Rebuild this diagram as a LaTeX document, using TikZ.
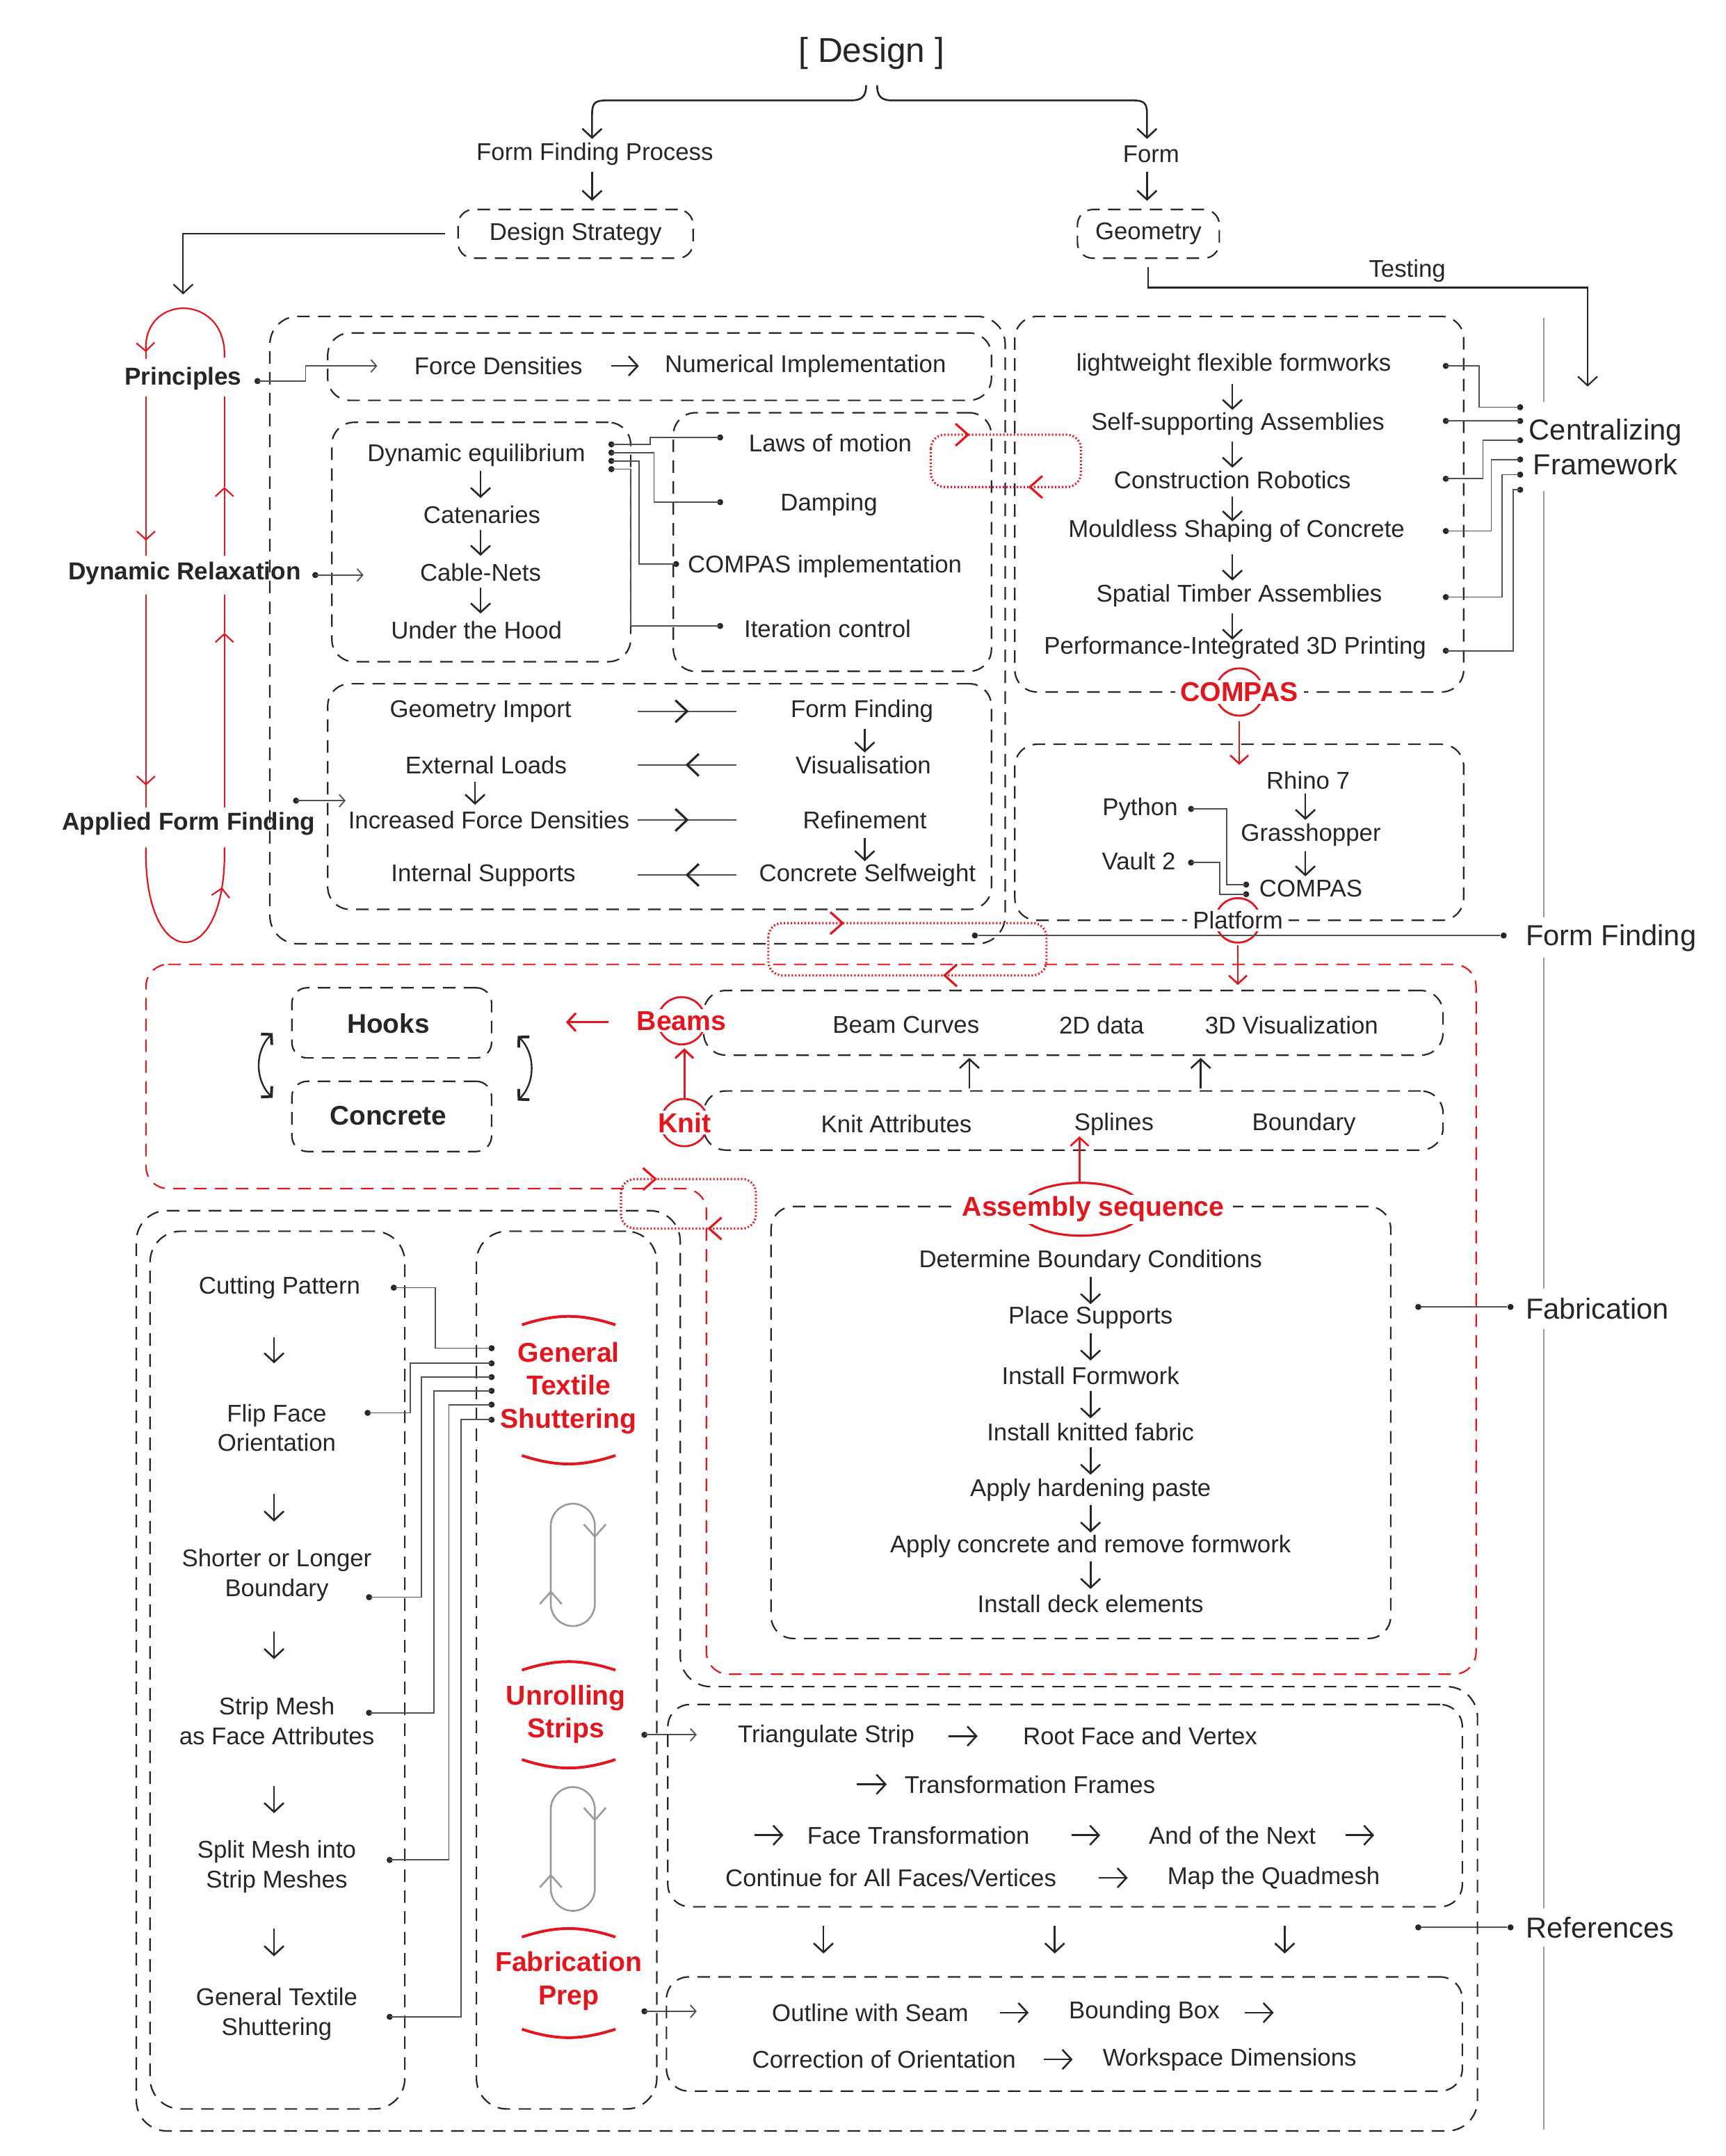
\documentclass[tikz,border=0pt]{standalone}
\usepackage{fontspec}
\setmainfont{Liberation Sans}
\usetikzlibrary{arrows.meta,fit,decorations.markings}
\definecolor{ink}{HTML}{262626}
\definecolor{rd}{HTML}{E3161D}
\definecolor{gr}{HTML}{505050}
\definecolor{lg}{HTML}{9A9A9A}
\newcommand{\chr}[2]{\draw[chev] (#1-9,#2-8) -- (#1,#2) -- (#1-9,#2+8);}
\newcommand{\chl}[2]{\draw[chev] (#1+9,#2-8) -- (#1,#2) -- (#1+9,#2+8);}
\newcommand{\bkr}[2]{\draw[ink,line width=1.6pt] (#1-8.5,#2-8) -- (#1,#2) -- (#1-8.5,#2+8);}
\newcommand{\bkl}[2]{\draw[ink,line width=1.6pt] (#1+8.5,#2-8) -- (#1,#2) -- (#1+8.5,#2+8);}
\begin{document}
\begin{tikzpicture}[x=0.99pt,y=-0.989pt,
 t/.style={font=\fontsize{17.4}{21.3}\selectfont,text=ink,inner sep=0pt,align=center},
 tb/.style={font=\fontsize{17.6}{21}\selectfont\bfseries,text=ink,inner sep=0pt},
 hk/.style={font=\fontsize{19.4}{23}\selectfont\bfseries,text=ink,inner sep=0pt},
 tr/.style={font=\fontsize{19.6}{23.8}\selectfont\bfseries,text=rd,inner sep=0pt,align=center},
 lab/.style={tr,fill=white,inner xsep=4pt,inner ysep=1.5pt},
 side/.style={font=\fontsize{20.8}{24.8}\selectfont,text=ink,inner sep=0pt,align=center},
 dbox/.style={draw=ink,line width=1.1pt,dash pattern=on 9pt off 6pt,rounded corners=16pt,inner sep=0pt},
 rdash/.style={draw=rd,line width=1.1pt,dash pattern=on 9pt off 6pt,rounded corners=16pt},
 rdot/.style={draw=rd,line width=1.6pt,dash pattern=on 1pt off 1.5pt,rounded corners=10pt},
 arr/.style={draw=ink,line width=1.3pt,-{Straight Barb[length=6.5pt,width=14pt]}},
 rarr/.style={draw=rd,line width=1.3pt,-{Straight Barb[length=6pt,width=13pt]}},
 rl/.style={draw=rd,line width=1.1pt},
 cn/.style={draw=gr,line width=0.9pt},
 carr/.style={draw=gr,line width=0.9pt,-{Straight Barb[length=4pt,width=9pt]}},
 dot/.style={circle,fill=ink,inner sep=0pt,minimum size=4.4pt},
 chev/.style={draw=rd,line width=1.6pt},
 loopic/.style={draw=lg,line width=1.3pt},
]
\useasboundingbox (0,0) rectangle (1253.0,1567.2);

% ---------------- top ----------------
\node[font=\fontsize{24.8}{30}\selectfont,text=ink,inner sep=0pt] (design) at (633,39) {[ Design ]};
\node[t] (ffp) at (432,112) {Form Finding Process};
\node[t] (form) at (836,112) {Form};
\draw[arr,line width=1.3pt] (629,62) .. controls (629,70) and (626,73) .. (618,73) -- (440,73) .. controls (432,73) and (430,75) .. (430,83) -- (430,101);
\draw[arr,line width=1.3pt] (637,62) .. controls (637,70) and (640,73) .. (648,73) -- (823,73) .. controls (831,73) and (833,75) .. (833,83) -- (833,101);
\draw[arr] (430,125) -- (430,146);
\draw[arr] (833,125) -- (833,146);
\node[t,dbox,rounded corners=11pt,minimum width=169pt,minimum height=35pt] (ds) at (418,170) {Design Strategy};
\node[t,dbox,rounded corners=11pt,minimum width=102pt,minimum height=35pt] (geo) at (834,170) {Geometry};
\draw[arr,line width=1.1pt] (ds.west) ++(-9,0) -- (133,170) -- (133,214);
\draw[arr,line width=1.1pt] (geo.south) ++(0,6) -- (834,209) -- (1153,209) -- (1153,281);
\node[t] (test) at (1022,197) {Testing};

% ---------------- left loop ----------------
\node[tb] (princ) at (133,275) {Principles};
\node[tb] (dr) at (134,417) {Dynamic Relaxation};
\node[tb] (aff) at (137,599) {Applied Form Finding};
\draw[rl,-{Straight Barb[length=6pt,width=13pt]}] (163,260) .. controls (165,213) and (104,213) .. (106,256);
\draw[rl] (106,256) -- (106,261);
\draw[rl,-{Straight Barb[length=6pt,width=13pt]}] (106,288) -- (106,393);
\draw[rl] (106,393) -- (106,404);
\draw[rl,-{Straight Barb[length=6pt,width=13pt]}] (106,432) -- (106,571);
\draw[rl] (106,571) -- (106,587);
\draw[rl,postaction={decorate},decoration={markings,mark=at position 0.82 with {\arrow{Straight Barb[length=6pt,width=13pt]}}}] (106,616) .. controls (104,708) and (165,708) .. (163,616);
\draw[rl,-{Straight Barb[length=6pt,width=13pt]}] (163,404) -- (163,354);
\draw[rl] (163,354) -- (163,288);
\draw[rl,-{Straight Barb[length=6pt,width=13pt]}] (163,587) -- (163,460);
\draw[rl] (163,460) -- (163,432);

% ---------------- form finding block ----------------
\node[dbox,rounded corners=20pt,fit={(196,230)(730,686)}] (ffbox) {};
\node[dbox,fit={(238,242)(720,291)}] (boxA) {};
\node[dbox,fit={(241,307)(458,481)}] (boxB) {};
\node[dbox,fit={(489,300)(720,488)}] (boxC) {};
\node[dbox,fit={(238,497)(720,661)}] (boxD) {};

\node[t] (fd) at (362,266) {Force Densities};
\node[t] (ni) at (585,266) {Numerical Implementation};
\draw[arr] (444,266) -- (464,266);
\node[dot] (dp) at (187,277) {};
\draw[carr] (dp.center) -- (222,277) -- (222,266) -- (274,266);
\node[dot] (ddr) at (229,418) {};
\draw[carr] (ddr.center) -- (264,418);
\node[dot] (daff) at (215,582) {};
\draw[carr] (daff.center) -- (251,582);

\node[t] (de) at (346,331) {Dynamic equilibrium};
\node[t] (cat) at (350,374) {Catenaries};
\node[t] (cab) at (349,416) {Cable-Nets};
\node[t] (uth) at (346,458) {Under the Hood};
\draw[arr] (349,342) -- (349,362);
\draw[arr] (349,385) -- (349,404);
\draw[arr] (349,427) -- (349,446);

\node[t] (lom) at (603,322) {Laws of motion};
\node[t] (damp) at (602,367) {Damping};
\node[t] (cimp) at (599,412) {COMPAS implementation};
\node[t] (itc) at (601,457) {Iteration control};
\node[dot] (e1) at (444,323) {};
\node[dot] (e2) at (444,329) {};
\node[dot] (e3) at (444,335) {};
\node[dot] (e4) at (444,341) {};
\node[dot] (f1) at (523,318) {};
\node[dot] (f2) at (523,365) {};
\node[dot] (f3) at (491,410) {};
\node[dot] (f4) at (523,455) {};
\draw[cn] (e1.center) -- (472,323) -- (472,318) -- (f1.center);
\draw[cn] (e2.center) -- (475,329) -- (475,365) -- (f2.center);
\draw[cn] (e3.center) -- (464,335) -- (464,410) -- (f3.center);
\draw[cn] (e4.center) -- (458,341) -- (458,455) -- (f4.center);

\node[t] (gi) at (349,517) {Geometry Import};
\node[t] (el) at (353,556) {External Loads};
\node[t] (ifd) at (355,596) {Increased Force Densities};
\node[t] (isup) at (351,636) {Internal Supports};
\node[t] (ff2) at (626,517) {Form Finding};
\node[t] (vis) at (627,556) {Visualisation};
\node[t] (ref) at (628,596) {Refinement};
\node[t] (csw) at (630,636) {Concrete Selfweight};
\draw[arr] (345,568) -- (345,585);
\draw[arr] (628,530) -- (628,547);
\draw[arr] (628,609) -- (628,626);
\foreach \yy in {517,556,596,636} {\draw[gr,line width=1pt] (463,\yy) -- (535,\yy);}
\bkr{499}{517}
\bkl{499}{556}
\bkr{499}{596}
\bkl{499}{636}

% red dotted loop 1
\draw[rdot] (676,316) rectangle (785,354);
\chr{703}{316}
\chl{748}{354}

% ---------------- COMPAS blocks ----------------
\node[dbox,fit={(737,230)(1063,503)}] (boxE) {};
\node[dbox,fit={(737,541)(1063,669)}] (boxF) {};
\node[t] (lff) at (896,265) {lightweight flexible formworks};
\node[t] (ssa) at (899,308) {Self-supporting Assemblies};
\node[t] (cr) at (895,349) {Construction Robotics};
\node[t] (msc) at (898,386) {Mouldless Shaping of Concrete};
\node[t] (sta) at (900,433) {Spatial Timber Assemblies};
\node[t] (pip) at (897,471) {Performance-Integrated 3D Printing};
\draw[arr] (895,279) -- (895,298);
\draw[arr] (895,321) -- (895,340);
\draw[arr] (895,361) -- (895,379);
\draw[arr] (895,403) -- (895,422);
\draw[arr] (895,446) -- (895,465);
\draw[rd,line width=1.4pt] (900,503) circle (17pt);
\node[lab] (compas) at (900,503) {COMPAS};
\draw[rarr] (900,524) -- (900,556);

\node[t] (rh) at (950,567) {Rhino 7};
\node[t] (gh) at (952,607) {Grasshopper};
\node[t] (cmp2) at (952,646) {COMPAS};
\node[t] (py) at (828,588) {Python};
\node[t] (v2) at (827,626) {Vault 2};
\draw[arr] (948,577) -- (948,596);
\draw[arr] (948,619) -- (948,637);
\node[dot] (dpy) at (865,588) {};
\node[dot] (dv2) at (865,627) {};
\node[dot] (c1) at (905,643) {};
\node[dot] (c2) at (905,650) {};
\draw[cn] (dpy.center) -- (891,588) -- (891,643) -- (c1.center);
\draw[cn] (dv2.center) -- (886,627) -- (886,650) -- (c2.center);
\draw[rd,line width=1.4pt] (899,669) circle (16pt);
\node[lab,font=\fontsize{17.4}{21}\selectfont,text=ink] (plat) at (899,669) {Platform};
\draw[rarr] (899,687) -- (899,716);

% centralizing connectors
\node[dot] (s1) at (1050,266) {};
\node[dot] (s2) at (1050,306) {};
\node[dot] (s3) at (1050,348) {};
\node[dot] (s4) at (1050,386) {};
\node[dot] (s5) at (1050,434) {};
\node[dot] (s6) at (1050,473) {};
\node[dot] (g1) at (1104,296) {};
\node[dot] (g2) at (1104,306) {};
\node[dot] (g3) at (1104,320) {};
\node[dot] (g4) at (1104,334) {};
\node[dot] (g5) at (1104,345) {};
\node[dot] (g6) at (1104,356) {};
\draw[cn] (s1.center) -- (1074,266) -- (1074,296) -- (g1.center);
\draw[cn] (s2.center) -- (g2.center);
\draw[cn] (s3.center) -- (1077,348) -- (1077,320) -- (g3.center);
\draw[cn] (s4.center) -- (1083,386) -- (1083,334) -- (g4.center);
\draw[cn] (s5.center) -- (1091,434) -- (1091,345) -- (g5.center);
\draw[cn] (s6.center) -- (1099,473) -- (1099,356) -- (g6.center);

% right side
\node[side] (cf) at (1166,325) {Centralizing\\Framework};
\node[side] (sff) at (1170,682) {Form Finding};
\node[side] (sfab) at (1160,951) {Fabrication};
\node[side] (sref) at (1162,1401) {References};
\draw[lg,line width=1pt] (1121,231) -- (1121,292);
\draw[lg,line width=1pt] (1121,357) -- (1121,667);
\draw[lg,line width=1pt] (1121,696) -- (1121,937);
\draw[lg,line width=1pt] (1121,966) -- (1121,1387);
\draw[lg,line width=1pt] (1121,1415) -- (1121,1548);
\node[dot] (ffa) at (708,680) {};
\node[dot] (ffb) at (1092,680) {};
\draw[cn] (ffa) -- (ffb);
\node[dot] (faa) at (1030,950) {};
\node[dot] (fab) at (1097,950) {};
\draw[cn] (faa) -- (fab);
\node[dot] (rfa) at (1030,1401) {};
\node[dot] (rfb) at (1097,1401) {};
\draw[cn] (rfa) -- (rfb);

% red dotted loop 2
\draw[rdot] (558,671) rectangle (760,709);
\chr{612}{671}
\chl{686}{709}

% ---------------- red region ----------------
\draw[rdash] (106,701) -- (1072,701) -- (1072,1217) -- (513,1217) -- (513,864) -- (106,864) -- cycle;
\node[dbox,rounded corners=11pt,fit={(212,718)(357,769)}] (hooksbox) {};
\node[hk] (hooks) at (282,744) {Hooks};
\node[dbox,rounded corners=11pt,fit={(212,786)(357,837)}] (concbox) {};
\node[hk] (conc) at (282,811) {Concrete};
\draw[ink,line width=1.2pt,{Straight Barb[length=5pt,width=11pt,line width=2pt]}-{Straight Barb[length=5pt,width=11pt,line width=2pt]}] (198,751) to[bend right=45] (198,798);
\draw[ink,line width=1.2pt,{Straight Barb[length=5pt,width=11pt,line width=2pt]}-{Straight Barb[length=5pt,width=11pt,line width=2pt]}] (376,753) to[bend left=45] (376,800);

\node[dbox,fit={(511,720)(1048,767)}] (boxN) {};
\node[dbox,fit={(511,793)(1048,836)}] (boxO) {};
\node[t] (bc) at (658,745) {Beam Curves};
\node[t] (d2) at (800,745) {2D data};
\node[t] (d3) at (938,745) {3D Visualization};
\node[t] (ka) at (651,817) {Knit Attributes};
\node[t] (spl) at (809,817) {Splines};
\node[t] (bnd) at (947,817) {Boundary};
\draw[arr] (704,791) -- (704,769);
\draw[arr] (872,791) -- (872,769);
\draw[rd,line width=1.4pt] (495,742) circle (17pt);
\node[lab] (beams) at (495,742) {Beams};
\draw[rd,line width=1.4pt] (497,816) circle (17pt);
\node[lab] (knit) at (497,816) {Knit};
\draw[rarr,line width=1.6pt] (497,798) -- (497,762);
\draw[rarr,line width=1.6pt] (442,743) -- (411,743);

% assembly sequence
\node[dbox,fit={(560,877)(1010,1191)}] (boxM) {};
\draw[rd,line width=1.6pt] (785,879) ellipse [x radius=44pt, y radius=19pt];
\node[lab,text height=14pt,text depth=4pt,inner xsep=6pt] (asq) at (794,879) {Assembly sequence};
\draw[rarr] (784,859) -- (784,826);
\node[t] (a1) at (792,917) {Determine Boundary Conditions};
\node[t] (a2) at (792,958) {Place Supports};
\node[t] (a3) at (792,1000) {Install Formwork};
\node[t] (a4) at (792,1041) {Install knitted fabric};
\node[t] (a5) at (792,1083) {Apply hardening paste};
\node[t] (a6) at (792,1124) {Apply concrete and remove formwork};
\node[t] (a7) at (792,1166) {Install deck elements};
\foreach \yy in {917,958,1000,1041,1083,1124} {\draw[arr] (792,\yy+11) -- (792,\yy+31);}

% red dotted loop 3
\draw[rdot] (451,857) rectangle (549,893);
\chr{476}{857}
\chl{515}{893}

% ---------------- fabrication region ----------------
\draw[dbox,rounded corners=22pt] (99,880) -- (494,880) -- (494,1226) -- (1073,1226) -- (1073,1549) -- (99,1549) -- cycle;
\node[dbox,rounded corners=22pt,fit={(109,895)(294,1533)}] (boxI) {};
\node[dbox,rounded corners=22pt,fit={(346,895)(477,1533)}] (boxJ) {};

\node[t] (cp) at (203,936) {Cutting Pattern};
\node[t] (flip) at (201,1038) {Flip Face\\Orientation};
\node[t] (sol) at (201,1145) {Shorter or Longer\\Boundary};
\node[t] (sm) at (201,1251) {Strip Mesh\\as Face Attributes};
\node[t] (spm) at (201,1357) {Split Mesh into\\Strip Meshes};
\node[t] (gts) at (201,1464) {General Textile\\Shuttering};
\draw[arr] (199,972) -- (199,991);
\draw[arr] (199,1086) -- (199,1106);
\draw[arr] (199,1186) -- (199,1206);
\draw[arr] (199,1298) -- (199,1318);
\draw[arr] (199,1402) -- (199,1422);

\node[dot] (l1) at (286,936) {};
\node[dot] (l2) at (267,1027) {};
\node[dot] (l3) at (268,1161) {};
\node[dot] (l4) at (268,1245) {};
\node[dot] (l5) at (283,1352) {};
\node[dot] (l6) at (283,1466) {};
\node[dot] (m1) at (357,980) {};
\node[dot] (m2) at (357,991) {};
\node[dot] (m3) at (357,1001) {};
\node[dot] (m4) at (357,1011) {};
\node[dot] (m5) at (357,1021) {};
\node[dot] (m6) at (357,1032) {};
\draw[cn] (l1.center) -- (316,936) -- (316,980) -- (m1.center);
\draw[cn] (l2.center) -- (298,1027) -- (298,991) -- (m2.center);
\draw[cn] (l3.center) -- (306,1161) -- (306,1001) -- (m3.center);
\draw[cn] (l4.center) -- (315,1245) -- (315,1011) -- (m4.center);
\draw[cn] (l5.center) -- (326,1352) -- (326,1021) -- (m5.center);
\draw[cn] (l6.center) -- (335,1466) -- (335,1032) -- (m6.center);

\node[tr] (rgts) at (413,1009) {General\\Textile\\Shuttering};
\node[tr] (rus) at (411,1246) {Unrolling\\Strips};
\node[tr] (rfp) at (413,1440) {Fabrication\\Prep};
\draw[rd,line width=2pt] (379,963) to[bend left=18] (447,963);
\draw[rd,line width=2pt] (379,1058) to[bend right=18] (447,1058);
\draw[rd,line width=2pt] (379,1214) to[bend left=18] (447,1214);
\draw[rd,line width=2pt] (379,1279) to[bend right=18] (447,1279);
\draw[rd,line width=2pt] (379,1408) to[bend left=18] (447,1408);
\draw[rd,line width=2pt] (379,1475) to[bend right=18] (447,1475);

\draw[loopic,rounded corners=16pt] (400,1093) rectangle (432,1182);
\draw[loopic] (424,1108) -- (432,1117) -- (440,1108);
\draw[loopic] (392,1166) -- (400,1157) -- (408,1166);
\draw[loopic,rounded corners=16pt] (400,1299) rectangle (432,1389);
\draw[loopic] (424,1314) -- (432,1323) -- (440,1314);
\draw[loopic] (392,1372) -- (400,1363) -- (408,1372);

\node[dot] (du) at (468,1261) {};
\draw[carr] (du.center) -- (506,1261);
\node[dot] (dfp) at (468,1462) {};
\draw[carr] (dfp.center) -- (506,1462);

\node[dbox,fit={(485,1239)(1062,1386)}] (boxK) {};
\node[dbox,fit={(484,1437)(1062,1520)}] (boxL) {};
\node[t] (k1) at (600,1262) {Triangulate Strip};
\node[t] (k2) at (828,1262) {Root Face and Vertex};
\node[t] (k3) at (748,1297) {Transformation Frames};
\node[t] (k4) at (667,1334) {Face Transformation};
\node[t] (k5) at (895,1334) {And of the Next};
\node[t] (k6) at (647,1365) {Continue for All Faces/Vertices};
\node[t] (k7) at (925,1365) {Map the Quadmesh};
\draw[arr] (689,1262) -- (710,1262);
\draw[arr] (622,1297) -- (644,1297);
\draw[arr] (548,1334) -- (569,1334);
\draw[arr] (778,1334) -- (799,1334);
\draw[arr] (977,1334) -- (998,1334);
\draw[arr] (798,1365) -- (819,1365);
\draw[arr] (598,1400) -- (598,1420);
\draw[arr] (766,1400) -- (766,1420);
\draw[arr] (933,1400) -- (933,1420);
\node[t] (o1) at (632,1463) {Outline with Seam};
\node[t] (o2) at (831,1463) {Bounding Box};
\node[t] (o3) at (642,1497) {Correction of Orientation};
\node[t] (o4) at (893,1497) {Workspace Dimensions};
\draw[arr] (726,1463) -- (747,1463);
\draw[arr] (904,1463) -- (925,1463);
\draw[arr] (758,1497) -- (779,1497);
\end{tikzpicture}
\end{document}
